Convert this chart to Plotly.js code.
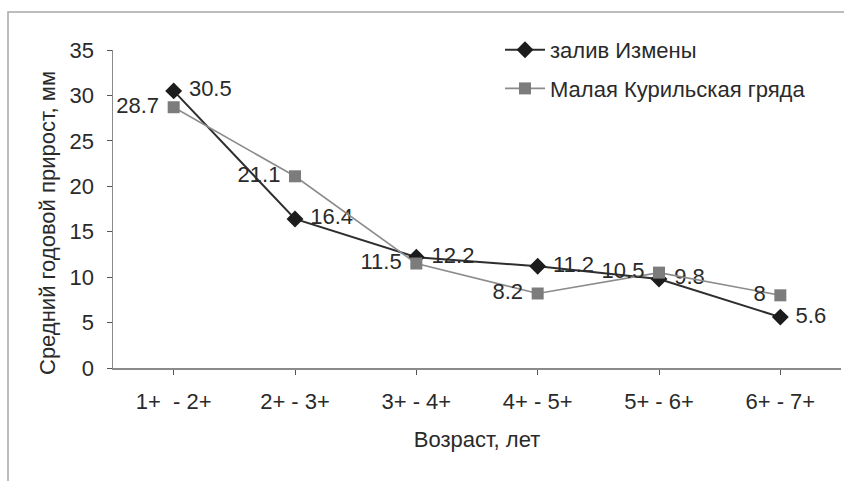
<!DOCTYPE html>
<html>
<head>
<meta charset="utf-8">
<script src="https://cdn.plot.ly/plotly-3.0.1.min.js"></script>
<style>html,body{margin:0;padding:0;background:#fff;}#chart{width:844px;height:481px;}</style>
</head>
<body>
<div id="chart"></div>
<script>
const categories = ["1+\u00a0 - 2+", "2+ - 3+", "3+ - 4+", "4+ - 5+", "5+ - 6+", "6+ - 7+"];
const seriesNames = ["залив Измены", "Малая Курильская гряда"];
const izmeny = [30.5, 16.4, 12.2, 11.2, 9.8, 5.6];
const kurily = [28.7, 21.1, 11.5, 8.2, 10.5, 8];
const yTicks = [0, 5, 10, 15, 20, 25, 30, 35];
const xTitle = "Возраст, лет";
const yTitle = "Средний годовой прирост, мм";

const FONT = "Liberation Sans, Arial, sans-serif";
const TXT = "#2a2a2a";
const FS = 22;

const traces = [
  {
    x: categories, y: izmeny, name: seriesNames[0], type: "scatter",
    mode: "lines+markers+text", text: izmeny.map(String),
    texttemplate: "\u00a0%{text}",
    textposition: "middle right",
    textfont: {family: FONT, size: FS, color: TXT},
    line: {color: "#2e2e2e", width: 2},
    marker: {symbol: "diamond", size: 13, color: "#1c1c1c"},
    legendgroup: "a", cliponaxis: false
  },
  {
    x: categories, y: kurily, name: seriesNames[1], type: "scatter",
    mode: "lines+markers+text", text: kurily.map(String),
    texttemplate: "%{text}\u00a0",
    textposition: "middle left",
    textfont: {family: FONT, size: FS, color: TXT},
    line: {color: "#8c8c8c", width: 1.6},
    marker: {symbol: "square", size: 12, color: "#7c7c7c"},
    legendgroup: "b", cliponaxis: false
  }
];

const L = 113, T = 50, W = 728, H = 318;
const layout = {
  width: 844, height: 481,
  margin: {l: L, r: 844 - L - W, t: T, b: 481 - T - H},
  paper_bgcolor: "#ffffff", plot_bgcolor: "#ffffff",
  font: {family: FONT, size: FS, color: TXT},
  showlegend: true,
  legend: {
    x: (500 - L) / W, y: 1 + 21 / H, xanchor: "left", yanchor: "top",
    bgcolor: "rgba(0,0,0,0)", borderwidth: 0,
    font: {family: FONT, size: FS, color: TXT},
    traceorder: "grouped", tracegroupgap: 7, itemwidth: 40
  },
  xaxis: {
    type: "category", range: [-0.5, 5.5],
    showline: true, linecolor: "#8a8a8a", linewidth: 1.5,
    ticks: "outside", ticklen: 5, tickcolor: "#555",
    showgrid: false, zeroline: false,
    tickfont: {family: FONT, size: FS, color: TXT},
    ticklabelstandoff: 8,
    title: {text: xTitle, font: {family: FONT, size: FS, color: TXT}, standoff: 18}
  },
  yaxis: {
    range: [0, 35], tickvals: yTicks,
    showline: true, linecolor: "#8a8a8a", linewidth: 1.5,
    ticks: "outside", ticklen: 5, tickcolor: "#555",
    showgrid: false, zeroline: false,
    tickfont: {family: FONT, size: FS, color: TXT},
    ticklabelstandoff: 8
  },
  annotations: [
    {
      text: yTitle, textangle: -90, showarrow: false,
      xref: "paper", yref: "paper",
      x: (47 - L) / W, y: (T + H - 223) / H,
      xanchor: "center", yanchor: "middle",
      font: {family: FONT, size: FS, color: TXT}
    }
  ],
  shapes: [
    {
      type: "rect", xref: "paper", yref: "paper", layer: "below",
      x0: (8 - L) / W, x1: (860 - L) / W,
      y0: (T + H - 500) / H, y1: (T + H - 12) / H,
      line: {color: "#a8a8a8", width: 1.5}, fillcolor: "rgba(0,0,0,0)"
    }
  ]
};

Plotly.newPlot("chart", traces, layout, {displayModeBar: false, staticPlot: true});
</script>
</body>
</html>
